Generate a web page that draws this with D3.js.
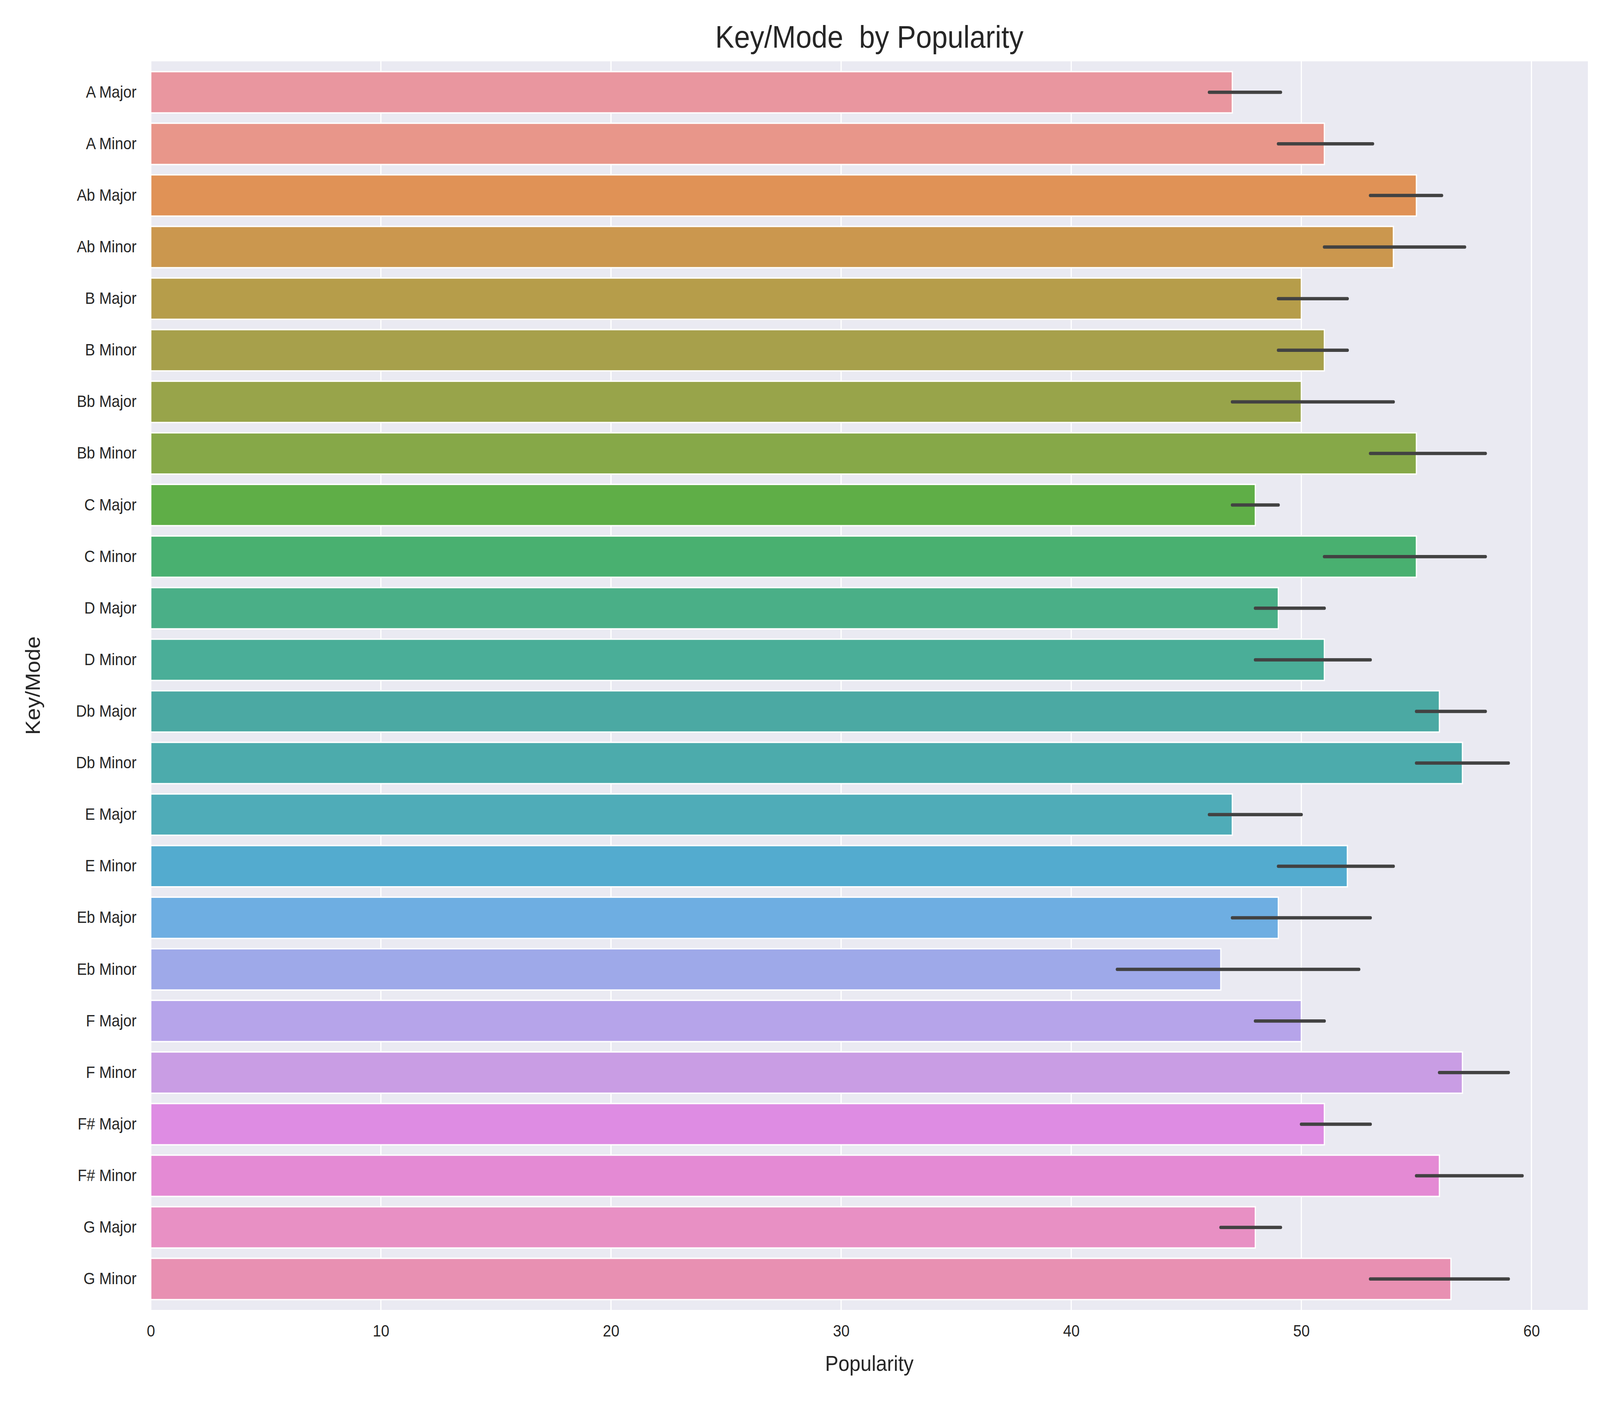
<!DOCTYPE html>
<html><head><meta charset="utf-8">
<script src="https://cdn.jsdelivr.net/npm/d3@7"></script>
<style>html,body{margin:0;padding:0;background:#fff;overflow:hidden}svg{display:block;width:100vw;height:100vh}</style></head>
<body><svg id="c" viewBox="0 0 4500 3600" preserveAspectRatio="none"></svg>
<script>
const categories=["A Major","A Minor","Ab Major","Ab Minor","B Major","B Minor","Bb Major","Bb Minor","C Major","C Minor","D Major","D Minor","Db Major","Db Minor","E Major","E Minor","Eb Major","Eb Minor","F Major","F Minor","F# Major","F# Minor","G Major","G Minor"];
const values=[47,51,55,54,50,51,50,55,48,55,49,51,56,57,47,52,49,46.5,50,57,51,56,48,56.5];
const ciLow=[46,49,53,51,49,49,47,53,47,51,48,48,55,55,46,49,47,42,48,56,50,55,46.5,53];
const ciHigh=[49.1,53.1,56.1,57.1,52,52,54,58,49,58,51,53,58,59,50,54,53,52.5,51,59,53,59.6,49.1,59];
const colors=["#e9969f","#e8968a","#e09256","#cb974e","#b69d4a","#a7a04b","#98a44a","#86a848","#5fae47","#49b070","#4aaf87","#4aae98","#4ba9a3","#4cabac","#4facb8","#53abcf","#6eaee2","#9ea9e9","#b6a4ea","#c99de4","#de8ce3","#e48ad4","#e890c4","#e890b2"];
const xTicks=[0,10,20,30,40,50,60];
const svg=d3.select("#c");
const L=424,R=4466,T=157,B=3354;
const x=d3.scaleLinear().domain([0,(R-L)/64.72]).range([L,R]);
const y=d3.scaleBand().domain(categories).range([T,B]).padding(0.2);
svg.append("rect").attr("x",L).attr("y",T).attr("width",R-L).attr("height",B-T).attr("fill","#eaeaf2");
svg.selectAll(".g").data(xTicks).enter().append("line").attr("x1",d=>x(d)).attr("x2",d=>x(d)).attr("y1",T).attr("y2",B).attr("stroke","#fff").attr("stroke-width",3.5);
svg.selectAll(".bar").data(categories).enter().append("rect")
 .attr("x",x(0)).attr("y",d=>y(d)).attr("width",(d,i)=>x(values[i])-x(0)).attr("height",y.bandwidth())
 .attr("fill",(d,i)=>colors[i]).attr("stroke","#fff").attr("stroke-width",3.5);
svg.selectAll(".err").data(categories).enter().append("line")
 .attr("x1",(d,i)=>x(ciLow[i])).attr("x2",(d,i)=>x(ciHigh[i]))
 .attr("y1",d=>y(d)+y.bandwidth()/2).attr("y2",d=>y(d)+y.bandwidth()/2)
 .attr("stroke","#424242").attr("stroke-width",8.5).attr("stroke-linecap","round");
const font="'Liberation Sans', Arial, sans-serif";
const xa=svg.append("g").attr("transform",`translate(0,${B})`).call(d3.axisBottom(x).tickValues(xTicks).tickSize(0).tickPadding(38));
xa.select(".domain").remove();
xa.selectAll("text").attr("font-family",font).attr("font-size",42).attr("fill","#262626");
const ya=svg.append("g").attr("transform",`translate(${L},0)`).call(d3.axisLeft(y).tickSize(0).tickPadding(40));
ya.select(".domain").remove();
ya.selectAll("text").attr("font-family",font).attr("font-size",42).attr("fill","#262626");
svg.append("text").attr("x",(L+R)/2).attr("y",3510).attr("text-anchor","middle").attr("font-family",font).attr("font-size",56).attr("fill","#262626").text("Popularity");
svg.append("text").attr("transform",`translate(112,${(T+B)/2}) rotate(-90)`).attr("text-anchor","middle").attr("font-family",font).attr("font-size",56).attr("fill","#262626").text("Key/Mode");
svg.append("text").attr("x",(L+R)/2).attr("y",122).attr("text-anchor","middle").attr("font-family",font).attr("font-size",80).attr("fill","#262626").style("white-space","pre").text("Key/Mode  by Popularity");
</script></body></html>
